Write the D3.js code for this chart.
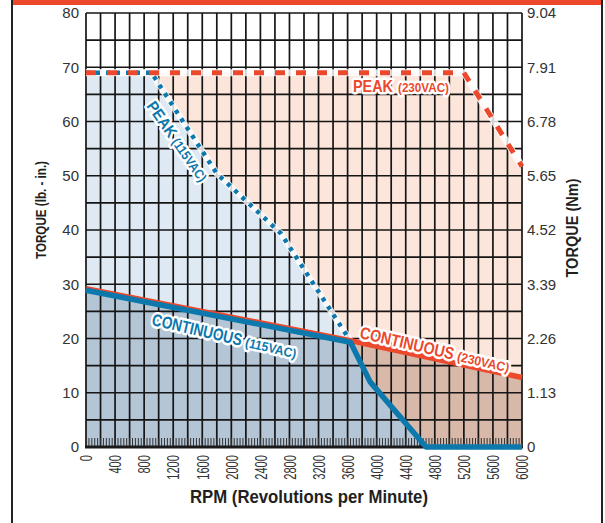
<!DOCTYPE html>
<html><head><meta charset="utf-8">
<script src="https://cdn.jsdelivr.net/npm/d3@7"></script>
<style>
body{margin:0;background:#fff;}
svg{display:block;font-family:"Liberation Sans",Arial,Helvetica,sans-serif;}
</style>
</head><body>
<svg id="c" width="605" height="523"></svg>
<script>
// ---- data ----
const rpmTicks = [0,400,800,1200,1600,2000,2400,2800,3200,3600,4000,4400,4800,5200,5600,6000];
const torqueTicks = [0,10,20,30,40,50,60,70,80];
const nmTickLabels = ["0","1.13","2.26","3.39","4.52","5.65","6.78","7.91","9.04"];
const peak230 = [[0,69],[5200,69],[6000,51.7]];
const peak115 = [[0,69],[900,69],[1800,50.4],[2680,39.4],[3640,19.5]];
const cont230 = [[0,29.2],[3640,19.6],[6000,12.8]];
const cont115 = [[0,28.9],[3640,19.3],[3910,12.0],[4680,0],[6000,0]];

const RED = "#EC482C", BLUE = "#0C78AC";
const svg = d3.select("#c");
const x = d3.scaleLinear().domain([0,6000]).range([86,522]);
const y = d3.scaleLinear().domain([0,80]).range([447,13]);

// frame
svg.append("rect").attr("x",11).attr("y",0).attr("width",592).attr("height",5).attr("fill",RED);
svg.append("line").attr("x1",12).attr("x2",12).attr("y1",0).attr("y2",523).attr("stroke","#222").attr("stroke-width",2);
svg.append("line").attr("x1",602).attr("x2",602).attr("y1",0).attr("y2",523).attr("stroke","#222").attr("stroke-width",2);

// fills
const area = d3.area().x(d=>x(d[0])).y0(y(0)).y1(d=>y(d[1]));
svg.append("path").datum(peak230).attr("d",area).attr("fill","#FCE6DB");
svg.append("path").datum(peak115).attr("d",area).attr("fill","#DEE9F3");
svg.append("path").datum(cont230).attr("d",area).attr("fill","#D8B9A9");
svg.append("path").datum(cont115).attr("d",area).attr("fill","#B4C5D6");

// grid
const g = svg.append("g");
g.selectAll(".vg").data(d3.range(0,6001,200)).join("line")
  .attr("x1",d=>x(d)).attr("x2",d=>x(d)).attr("y1",y(0)).attr("y2",y(80))
  .attr("stroke","#151515").attr("stroke-width",1.7);
g.selectAll(".hg").data(d3.range(0,81,5)).join("line")
  .attr("x1",x(0)).attr("x2",x(6000)).attr("y1",d=>y(d)).attr("y2",d=>y(d))
  .attr("stroke","#151515").attr("stroke-width",1.6);
// minor ticks
g.selectAll(".mt").data(d3.range(0,6001,40)).join("line")
  .attr("x1",d=>x(d)).attr("x2",d=>x(d)).attr("y1",y(0)).attr("y2",y(0)-9)
  .attr("stroke","#333").attr("stroke-width",1);
svg.append("line").attr("x1",x(0)-1).attr("x2",x(6000)+1).attr("y1",y(0)).attr("y2",y(0))
  .attr("stroke","#1a1a1a").attr("stroke-width",3);

// lines
const line = d3.line().x(d=>x(d[0])).y(d=>y(d[1]));
svg.append("path").datum(peak115).attr("d",line).attr("fill","none").attr("stroke","#fff").attr("stroke-width",6.5).attr("opacity",0.8);
svg.append("path").datum(peak230).attr("d",line).attr("fill","none").attr("stroke","#fff").attr("stroke-width",7).attr("opacity",0.8);
svg.append("path").datum(peak115).attr("d",line).attr("fill","none").attr("stroke",BLUE).attr("stroke-width",4.5).attr("stroke-dasharray","4,6");
svg.append("path").datum(peak230).attr("d",line).attr("fill","none").attr("stroke",RED).attr("stroke-width",5).attr("stroke-dasharray","10,11");
svg.append("path").datum(cont230).attr("d",line).attr("fill","none").attr("stroke",RED).attr("stroke-width",5.5);
svg.append("path").datum(cont115).attr("d",line).attr("fill","none").attr("stroke",BLUE).attr("stroke-width",5.5).attr("stroke-linejoin","round");

// axes
const left = svg.append("g").attr("transform",`translate(${x(0)},0)`)
  .call(d3.axisLeft(y).tickValues(torqueTicks).tickSize(0).tickPadding(7));
const right = svg.append("g").attr("transform",`translate(${x(6000)},0)`)
  .call(d3.axisRight(y).tickValues(torqueTicks).tickSize(0).tickPadding(5).tickFormat((d,i)=>nmTickLabels[i]));
const bottom = svg.append("g").attr("transform",`translate(0,${y(0)})`)
  .call(d3.axisBottom(x).tickValues(rpmTicks).tickSize(0).tickFormat(d=>String(d)));
[left,right,bottom].forEach(a=>{a.select(".domain").remove();
  a.selectAll("text").attr("font-family","'Liberation Sans',Arial,sans-serif").attr("font-size",15).attr("fill","#333");});
bottom.selectAll("text").attr("transform","rotate(-90)").attr("text-anchor","end")
  .attr("x",-8).attr("y",0).attr("dy","0.36em").attr("font-size",16)
  .attr("textLength",d=>String(d).length*6.2).attr("lengthAdjust","spacingAndGlyphs");

// axis titles
svg.append("text").attr("transform","translate(41,210) rotate(-90)").attr("text-anchor","middle").attr("dy","0.36em")
  .attr("font-weight","bold").attr("font-size",15).attr("fill","#231F20")
  .attr("textLength",98).attr("lengthAdjust","spacingAndGlyphs").text("TORQUE (lb. - in.)");
svg.append("text").attr("transform","translate(572,228) rotate(-90)").attr("text-anchor","middle").attr("dy","0.36em")
  .attr("font-weight","bold").attr("font-size",16).attr("fill","#231F20")
  .attr("textLength",99).attr("lengthAdjust","spacingAndGlyphs").text("TORQUE (Nm)");
svg.append("text").attr("x",309).attr("y",503).attr("text-anchor","middle")
  .attr("font-weight","bold").attr("font-size",18).attr("fill","#231F20")
  .attr("textLength",238).attr("lengthAdjust","spacingAndGlyphs").text("RPM (Revolutions per Minute)");

// series labels
function label(px,py,ang,color,main,ms,ml,sub,ss,sl,gap){
  const gg = svg.append("g").attr("transform",`translate(${px},${py}) rotate(${ang})`);
  [[main,ms,ml,0],[sub,ss,sl,ml+gap]].forEach(([t,s,l,o])=>{
    gg.append("text").attr("x",o).attr("y",0).attr("font-weight","bold").attr("font-size",s)
      .attr("fill",color).attr("stroke","#fff").attr("stroke-width",5).attr("stroke-linejoin","round")
      .attr("paint-order","stroke").attr("textLength",l).attr("lengthAdjust","spacingAndGlyphs").text(t);
  });
}
label(353,92,0,RED,"PEAK",17,40,"(230VAC)",13,51,5);
label(146,106,55,BLUE,"PEAK",16,40,"(115VAC)",13,50,4);
label(151,325,13,BLUE,"CONTINUOUS",17,92,"(115VAC)",13,52,4);
label(359,338,13,RED,"CONTINUOUS",17,96,"(230VAC)",13,53,4);
</script>
</body></html>
